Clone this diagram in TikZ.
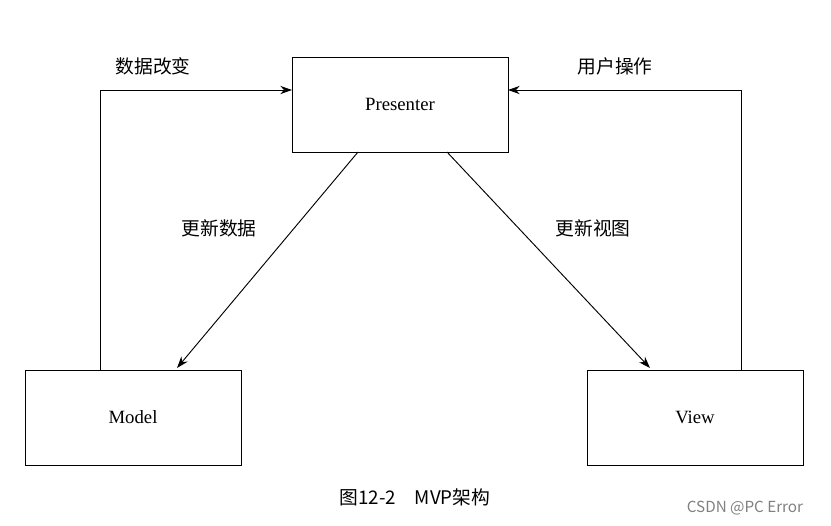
\documentclass[tikz,border=0pt]{standalone}
\usepackage{fontspec}
\setmainfont{Liberation Serif}
\newfontfamily\cjk{Noto Sans CJK SC}
\usetikzlibrary{arrows.meta}
\begin{document}
\begin{tikzpicture}[x=0.03cm,y=-0.03cm,
                box/.style={draw,line width=0.8pt,minimum width=6.48cm,minimum height=2.85cm,font=\fontsize{16}{18}\selectfont},
                lbl/.style={font=\cjk\fontsize{16}{18}\selectfont},
                link/.style={-{Stealth[length=10pt,width=7pt]},line width=0.8pt}]
                \useasboundingbox (0,0) rectangle (831,525);
                \node[box] (presenter) at (400,104.5) {Presenter};
                \node[box] (model) at (133,417.5) {Model};
                \node[box] (view) at (695,417.5) {View};
                \coordinate (pl) at (292,90);
                \coordinate (pr) at (508,90);
                \draw[link] (model.north -| 100,0) |- (pl);
                \draw[link] (view.north -| 741,0) |- (pr);
                \draw[link] (358,152) -- (177,368);
                \draw[link] (447,152) -- (650,368);
                \node[lbl] (change) at (153,66) {数据改变};
                \node[lbl] (action) at (615,66) {用户操作};
                \node[lbl] (upddata) at (219,228) {更新数据};
                \node[lbl] (updview) at (593,228) {更新视图};
                \node[font=\cjk\fontsize{16}{18}\selectfont] (caption) at (415,497) {图12-2\quad MVP架构};
                \node[font=\cjk\fontsize{13}{15}\selectfont,text=gray] (mark) at (745,508) {CSDN @PC Error};
            \end{tikzpicture}
\end{document}
